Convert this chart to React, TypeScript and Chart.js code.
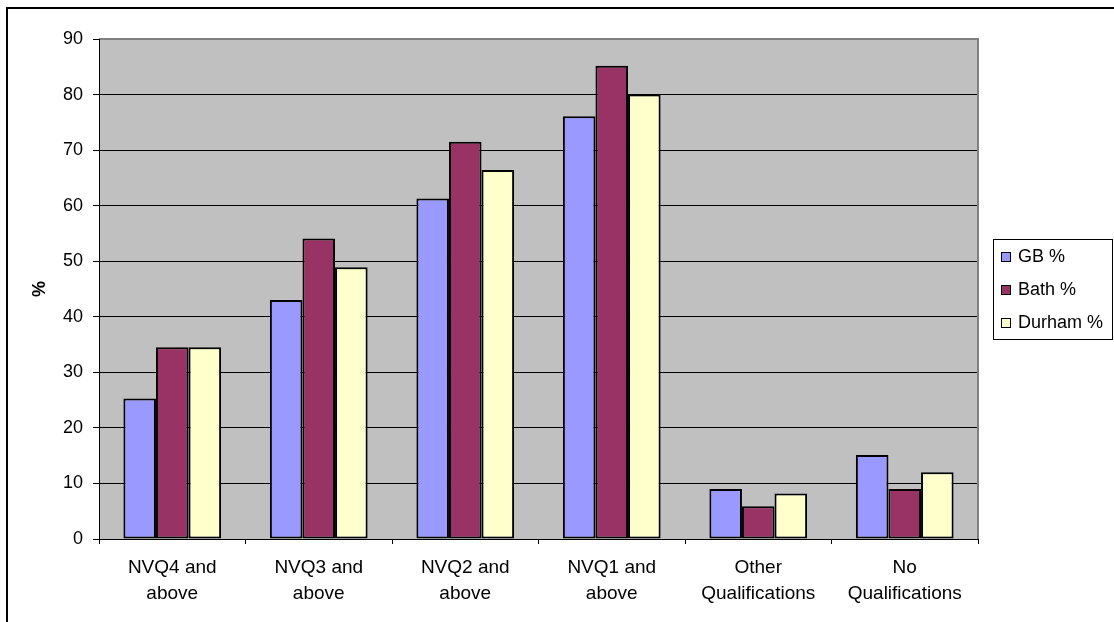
import React, { useEffect, useRef } from "react";
import { Chart, registerables } from "chart.js";

Chart.register(...registerables);

const categories: string[][] = [
  ["NVQ4 and", "above"],
  ["NVQ3 and", "above"],
  ["NVQ2 and", "above"],
  ["NVQ1 and", "above"],
  ["Other", "Qualifications"],
  ["No", "Qualifications"],
];
const gbValues = [25.3, 43.0, 61.3, 76.1, 9.0, 15.1];
const bathValues = [34.5, 54.1, 71.5, 85.2, 5.9, 9.0];
const durhamValues = [34.5, 48.9, 66.4, 80.0, 8.2, 12.0];
const seriesNames = ["GB %", "Bath %", "Durham %"];
const seriesColors = ["#9999FF", "#993366", "#FFFFCC"];
const yTicks = [0, 10, 20, 30, 40, 50, 60, 70, 80, 90];
const yTitle = "%";

const FONT = "'Liberation Sans', Arial, sans-serif";

const decorPlugin = {
  id: "decor",
  beforeDraw(chart: any) {
    const { ctx, chartArea } = chart;
    ctx.save();
    ctx.fillStyle = "#ffffff";
    ctx.fillRect(0, 0, chart.width, chart.height);
    ctx.fillStyle = "#C0C0C0";
    ctx.fillRect(chartArea.left, chartArea.top, chartArea.right - chartArea.left, chartArea.bottom - chartArea.top);
    ctx.restore();
  },
  afterDatasetsDraw(chart: any) {
    const { ctx, chartArea } = chart;
    ctx.save();
    ctx.strokeStyle = "#808080";
    ctx.lineWidth = 2;
    ctx.beginPath();
    ctx.moveTo(chartArea.left, chartArea.top);
    ctx.lineTo(chartArea.right, chartArea.top);
    ctx.lineTo(chartArea.right, chartArea.bottom);
    ctx.stroke();
    ctx.strokeStyle = "#000";
    ctx.lineWidth = 1;
    ctx.beginPath();
    ctx.moveTo(chartArea.left + 0.5, chartArea.top);
    ctx.lineTo(chartArea.left + 0.5, chartArea.bottom + 0.5);
    ctx.lineTo(chartArea.right, chartArea.bottom + 0.5);
    ctx.stroke();
    ctx.restore();
  },
  afterDraw(chart: any) {
    const { ctx, chartArea } = chart;
    ctx.save();
    // outer frame
    ctx.fillStyle = "#000";
    ctx.fillRect(6, 7, chart.width - 6, 2);
    ctx.fillRect(6, 7, 2, chart.height - 7);
    // y title
    ctx.translate(40, (chartArea.top + chartArea.bottom) / 2);
    ctx.rotate(-Math.PI / 2);
    ctx.font = `bold 18px ${FONT}`;
    ctx.textAlign = "center";
    ctx.textBaseline = "middle";
    ctx.fillStyle = "#000";
    ctx.fillText(yTitle, 0, 0);
    ctx.restore();
    // legend
    ctx.save();
    const lx = 993, ly = 239, lw = 119, lh = 100;
    ctx.fillStyle = "#fff";
    ctx.fillRect(lx, ly, lw, lh);
    ctx.strokeStyle = "#000";
    ctx.lineWidth = 1;
    ctx.strokeRect(lx + 0.5, ly + 0.5, lw, lh);
    ctx.font = `18px ${FONT}`;
    ctx.textBaseline = "middle";
    ctx.textAlign = "left";
    seriesNames.forEach((name, i) => {
      const cy = 257 + i * 33;
      ctx.fillStyle = seriesColors[i];
      ctx.fillRect(1001, cy - 5, 10, 10);
      ctx.strokeStyle = "#000";
      ctx.strokeRect(1001.5, cy - 4.5, 9, 9);
      ctx.fillStyle = "#000";
      ctx.fillText(name, 1018, cy);
    });
    ctx.restore();
  },
};

export default function App() {
  const ref = useRef<HTMLCanvasElement | null>(null);
  useEffect(() => {
    if (!ref.current) return;
    const datasetsValues = [gbValues, bathValues, durhamValues];
    const chart = new Chart(ref.current, {
      type: "bar",
      data: {
        labels: categories,
        datasets: datasetsValues.map((vals, i) => ({
          label: seriesNames[i],
          data: vals,
          backgroundColor: seriesColors[i],
          borderColor: "#000",
          borderWidth: 2,
          borderSkipped: false,
          categoryPercentage: 0.667,
          barPercentage: 1,
        })),
      },
      options: {
        responsive: false,
        animation: false,
        devicePixelRatio: 1,
        layout: { padding: { top: 39, right: 136, left: 0, bottom: 0 } },
        plugins: { legend: { display: false }, tooltip: { enabled: false }, title: { display: false } },
        scales: {
          x: {
            grid: { display: true, drawOnChartArea: false, drawTicks: true, tickLength: 5, color: "#000", offset: true },
            border: { display: true, color: "#000" },
            ticks: { color: "#000", font: { family: FONT, size: 19, lineHeight: 1.35 }, padding: 11, maxRotation: 0, autoSkip: false },
            afterFit: (s: any) => { s.height = 83; },
          },
          y: {
            min: 0,
            max: 90,
            afterBuildTicks: (s: any) => { s.ticks = yTicks.map((v) => ({ value: v })); },
            grid: { color: "#000", lineWidth: 1, drawTicks: true, tickLength: 6 },
            border: { display: true, color: "#000" },
            ticks: { color: "#000", font: { family: FONT, size: 18 }, padding: 10 },
            afterFit: (s: any) => { s.width = 99; },
          },
        },
      },
      plugins: [decorPlugin],
    });
    return () => chart.destroy();
  }, []);
  return (
    <canvas
      ref={ref}
      width={1114}
      height={622}
      style={{ position: "absolute", left: 0, top: 0, width: 1114, height: 622 }}
    />
  );
}
